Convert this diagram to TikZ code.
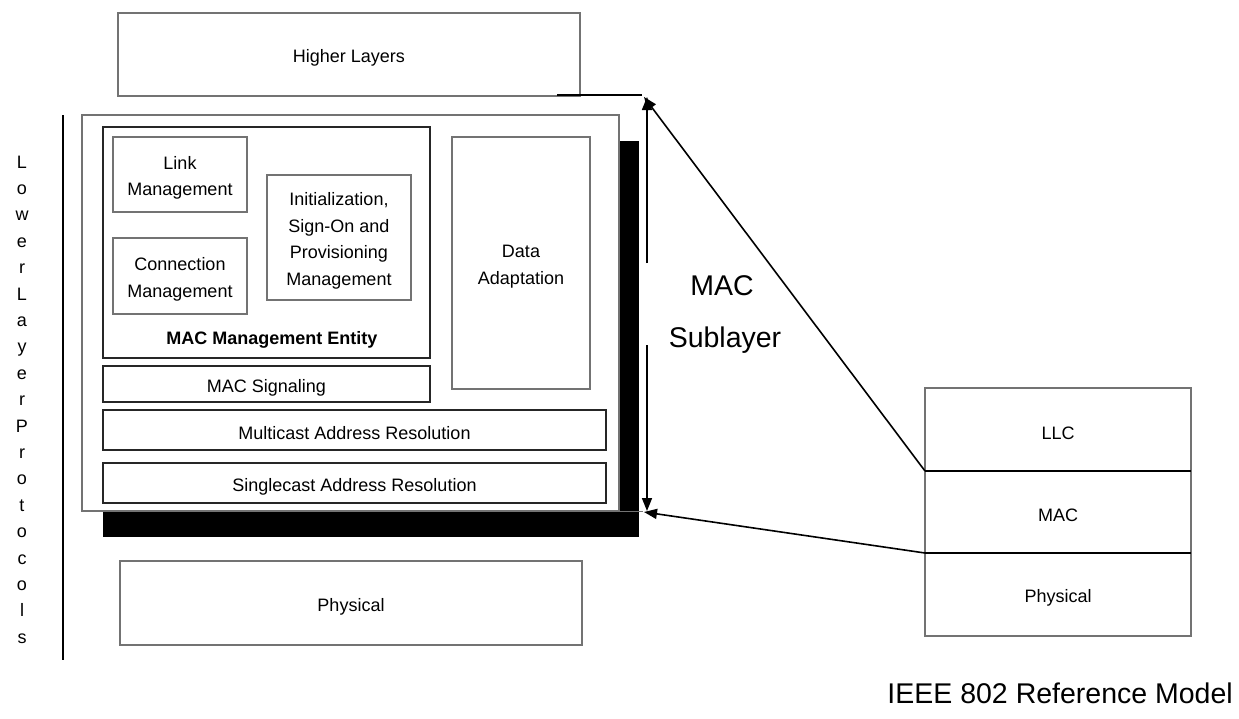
\documentclass[tikz,border=0pt]{standalone}
\usepackage{fontspec}
\setmainfont{Liberation Sans}
\usetikzlibrary{arrows.meta}
\begin{document}
\begin{tikzpicture}[x=1pt,y=-1pt,
  gbox/.style={draw=black!55, line width=1.2pt, fill=white, inner sep=0pt, outer sep=0pt},
  kbox/.style={draw=black!85, line width=1.1pt, fill=white, inner sep=0pt, outer sep=0pt},
  shadowbox/.style={fill=black, draw=none, inner sep=0pt, outer sep=0pt},
  txt/.style={font=\fontsize{18}{26.5}\selectfont, align=center, inner sep=0pt, yshift=-3.5pt},
  bigtxt/.style={font=\fontsize{28.5}{34}\selectfont, inner sep=0pt},
  conn/.style={line width=1.6pt, -{Triangle[length=13pt,width=10pt]}},
  bar/.style={line width=1.6pt},
  sz/.style 2 args={minimum width=#1pt, minimum height=#2pt},
]
\useasboundingbox (0,0) rectangle (1239,718);

% Higher layers
\node[gbox, sz={462}{83}] (hl) at (349,54.5) {};
\node[txt] (hlt) at (hl.center) {Higher Layers};

% MAC sublayer stack
\node[shadowbox, sz={536}{396}] (shd) at (371,339) {};
\node[gbox, sz={537}{396}] (outer) at (350.5,313) {};
\node[kbox, sz={327}{231}] (mme) at (266.5,242.5) {};
\node[font=\bfseries\fontsize{18}{22}\selectfont, anchor=base, inner sep=0pt] (mmet) at (272,344) {MAC Management Entity};
\node[gbox, sz={134}{75}] (link) at (180,174.5) {};
\node[txt] (linkt) at (link.center) {Link\\Management};
\node[gbox, sz={134}{76}] (conn) at (180,276) {};
\node[txt] (connt) at (conn.center) {Connection\\Management};
\node[gbox, sz={144}{125}] (init) at (339,237.5) {};
\node[txt] (initt) at (init.center) {Initialization,\\Sign-On and\\Provisioning\\Management};
\node[gbox, sz={138}{252}] (data) at (521,263) {};
\node[txt] (datat) at (data.center) {Data\\Adaptation};
\node[kbox, sz={327}{36}] (sig) at (266.5,384) {};
\node[txt] (sigt) at (sig.center) {MAC Signaling};
\node[kbox, sz={503}{40}] (multi) at (354.5,430) {};
\node[txt] (multit) at (multi.center) {Multicast Address Resolution};
\node[kbox, sz={503}{40}] (single) at (354.5,483) {};
\node[txt] (singlet) at (single.center) {Singlecast Address Resolution};

% Physical
\node[gbox, sz={462}{84}] (phys) at (351,603) {};
\node[txt] (physt) at (phys.center) {Physical};

% Lower layer protocols
\coordinate (vtop) at (63,115);
\coordinate (vbot) at (63,660);
\draw[bar] (vtop) -- (vbot);
\foreach \c [count=\i from 0] in {L,o,w,e,r,L,a,y,e,r,P,r,o,t,o,c,o,l,s}
  \node[font=\fontsize{18}{22}\selectfont, anchor=base, inner sep=0pt] (lt\i) at (22,{168+26.4*\i}) {\c};

% IEEE 802 stack
\node[gbox, sz={266}{83}] (llc) at (1058,429.5) {};
\node[txt] (llct) at (llc.center) {LLC};
\node[gbox, sz={266}{82}] (mac) at (1058,512) {};
\node[txt] (mact2) at (mac.center) {MAC};
\node[gbox, sz={266}{83}] (rphys) at (1058,594.5) {};
\node[txt] (rphyst) at (rphys.center) {Physical};
\draw[line width=1.1pt] (llc.south west) -- (llc.south east);
\draw[line width=1.1pt] (mac.south west) -- (mac.south east);

% MAC Sublayer label and arrows
\node[bigtxt, anchor=base] (mact) at (722,295) {MAC};
\node[bigtxt, anchor=base] (subt) at (725,347) {Sublayer};
\coordinate (h1) at (557,95);
\coordinate (h2) at (642,95);
\draw[bar] (h1) -- (h2);
\coordinate (b1) at (562,511);
\coordinate (b2) at (643,511);
\draw[draw=black!55, line width=1pt] (b1) -- (b2);
\coordinate (m1) at (647,263);
\coordinate (m1t) at (647,97);
\draw[conn] (m1) -- (m1t);
\coordinate (m2) at (647,345);
\coordinate (m2t) at (647,511);
\draw[conn] (m2) -- (m2t);
\coordinate (t1) at (644,97);
\coordinate (t2) at (644,512);
\draw[conn] (llc.south west) -- (t1);
\draw[conn] (mac.south west) -- (t2);

\node[bigtxt, anchor=base east] (ieee) at (1233,703) {IEEE 802 Reference Model};
\end{tikzpicture}
\end{document}
